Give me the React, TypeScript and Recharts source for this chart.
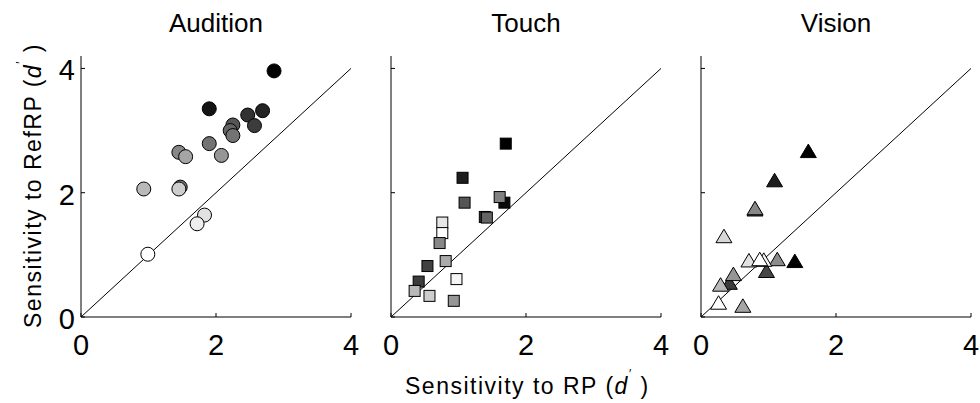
import React from 'react';
import { ScatterChart, Scatter, XAxis, YAxis, ReferenceLine } from 'recharts';

// ---------- data ----------
const panelTitles = ['Audition', 'Touch', 'Vision'];
const xTicks = [0, 2, 4];
const yTicks = [0, 2, 4];

// Audition (circles)
const auditionRP = [2.86, 1.90, 2.47, 2.69, 2.57, 2.25, 2.21, 2.25, 1.90, 2.08, 1.45, 1.55, 0.93, 1.47, 1.45, 1.83, 1.72, 0.99];
const auditionRefRP = [3.96, 3.35, 3.25, 3.32, 3.08, 3.09, 3.00, 2.92, 2.79, 2.60, 2.65, 2.58, 2.06, 2.09, 2.06, 1.64, 1.50, 1.01];
const auditionShade = [0, 20, 50, 35, 60, 85, 100, 115, 115, 150, 135, 165, 185, 120, 205, 225, 238, 255];

// Touch (squares)
const touchRP = [1.70, 1.06, 1.09, 1.68, 1.61, 1.39, 1.42, 0.76, 0.76, 0.72, 0.81, 0.54, 0.97, 0.41, 0.35, 0.57, 0.93];
const touchRefRP = [2.79, 2.24, 1.84, 1.84, 1.93, 1.61, 1.60, 1.52, 1.35, 1.19, 0.90, 0.82, 0.61, 0.57, 0.42, 0.34, 0.26];
const touchShade = [0, 30, 85, 10, 130, 50, 100, 230, 255, 135, 170, 65, 245, 60, 185, 205, 150];

// Vision (triangles)
const visionRP = [1.59, 1.09, 0.80, 0.80, 0.34, 1.39, 0.97, 1.13, 0.71, 0.93, 0.87, 0.42, 0.48, 0.29, 0.26, 0.62];
const visionRefRP = [2.67, 2.20, 1.73, 1.75, 1.30, 0.90, 0.74, 0.93, 0.91, 0.92, 0.93, 0.55, 0.69, 0.52, 0.23, 0.18];
const visionShade = [0, 30, 70, 135, 215, 0, 70, 140, 225, 245, 255, 60, 150, 185, 255, 165];

// ---------- helpers ----------
const toRows = (xs: number[], ys: number[], shades: number[]) =>
  xs.map((x, i) => ({ x, y: ys[i], shade: shades[i] }));

const gray = (v: number) => `rgb(${v},${v},${v})`;

const CircleShape = (p: any) => (
  <circle cx={p.cx} cy={p.cy} r={7} fill={gray(p.payload.shade)} stroke="#000" strokeWidth={1} />
);
const SquareShape = (p: any) => (
  <rect x={p.cx - 5.5} y={p.cy - 5.5} width={11} height={11} fill={gray(p.payload.shade)} stroke="#000" strokeWidth={1} />
);
const TriangleShape = (p: any) => (
  <polygon
    points={`${p.cx},${p.cy - 7} ${p.cx + 8},${p.cy + 6.5} ${p.cx - 8},${p.cy + 6.5}`}
    fill={gray(p.payload.shade)}
    stroke="#000"
    strokeWidth={1}
  />
);

const FONT = '"Liberation Sans", Arial, Helvetica, sans-serif';
const TICK_FONT = 29;

const XTick = (p: any) => (
  <g>
    <line x1={p.x} y1={p.y} x2={p.x} y2={p.y - 4} stroke="#000" strokeWidth={1} />
    <text x={p.x} y={p.y + 38} textAnchor="middle" fontSize={TICK_FONT} fontFamily={FONT} fill="#000">
      {p.payload.value}
    </text>
  </g>
);

const makeYTick = (showLabel: boolean) => (p: any) => (
  <g>
    <line x1={p.x} y1={p.y} x2={p.x + 4} y2={p.y} stroke="#000" strokeWidth={1} />
    {showLabel && (
      <text x={p.x - 6} y={p.y + 12} textAnchor="end" fontSize={TICK_FONT} fontFamily={FONT} fill="#000">
        {p.payload.value}
      </text>
    )}
  </g>
);

const PLOT_W = 270;
const LEFT_PAD = 50;
const panels = [
  { plotLeft: 81, rows: toRows(auditionRP, auditionRefRP, auditionShade), shape: CircleShape },
  { plotLeft: 391, rows: toRows(touchRP, touchRefRP, touchShade), shape: SquareShape },
  { plotLeft: 701, rows: toRows(visionRP, visionRefRP, visionShade), shape: TriangleShape },
];

function Panel({ idx }: { idx: number }) {
  const p = panels[idx];
  return (
    <div style={{ position: 'absolute', left: p.plotLeft - LEFT_PAD, top: 0 }}>
      <ScatterChart
        width={LEFT_PAD + PLOT_W + 12}
        height={403}
        margin={{ top: 56, right: 12, bottom: 36, left: 0 }}
        style={{ overflow: 'visible' }}
      >
        <XAxis
          type="number"
          dataKey="x"
          domain={[0, 4]}
          ticks={xTicks}
          allowDataOverflow
          height={50}
          tickSize={0}
          tickMargin={0}
          tickLine={false}
          axisLine={{ stroke: '#000', strokeWidth: 1 }}
          tick={XTick}
        />
        <YAxis
          type="number"
          dataKey="y"
          domain={[0, 4.2]}
          ticks={yTicks}
          allowDataOverflow
          width={LEFT_PAD}
          tickSize={0}
          tickMargin={0}
          tickLine={false}
          axisLine={{ stroke: '#000', strokeWidth: 1 }}
          tick={makeYTick(idx === 0)}
        />
        <ReferenceLine
          segment={[{ x: 0, y: 0 }, { x: 4, y: 4 }]}
          stroke="#000"
          strokeWidth={1}
          ifOverflow="visible"
        />
        <Scatter data={p.rows} shape={p.shape} isAnimationActive={false} />
      </ScatterChart>
    </div>
  );
}

export default function App() {
  return (
    <div
      style={{
        position: 'absolute',
        left: 0,
        top: 0,
        width: 980,
        height: 403,
        background: '#fff',
        overflow: 'hidden',
        fontFamily: FONT,
      }}
    >
      {panels.map((_, i) => (
        <Panel key={i} idx={i} />
      ))}
      <svg width={980} height={403} style={{ position: 'absolute', left: 0, top: 0, pointerEvents: 'none' }}>
        {panels.map((p, i) => (
          <text
            key={i}
            x={p.plotLeft + PLOT_W / 2}
            y={32}
            textAnchor="middle"
            fontSize={26}
            fontFamily={FONT}
            fill="#000"
          >
            {panelTitles[i]}
          </text>
        ))}
        <text x={405} y={394} textAnchor="start" fontSize={23} letterSpacing={1.5} fontFamily={FONT} fill="#000">
          Sensitivity to RP (<tspan fontStyle="italic">d</tspan>
          <tspan dy={-16} fontSize={12}>′</tspan>
          <tspan dy={16}> )</tspan>
        </text>
        <text transform="translate(41,328) rotate(-90)" textAnchor="start" fontSize={23} letterSpacing={1.5} fontFamily={FONT} fill="#000">
          Sensitivity to RefRP (<tspan fontStyle="italic">d</tspan>
          <tspan dy={-16} fontSize={12}>′</tspan>
          <tspan dy={16}> )</tspan>
        </text>
      </svg>
    </div>
  );
}
